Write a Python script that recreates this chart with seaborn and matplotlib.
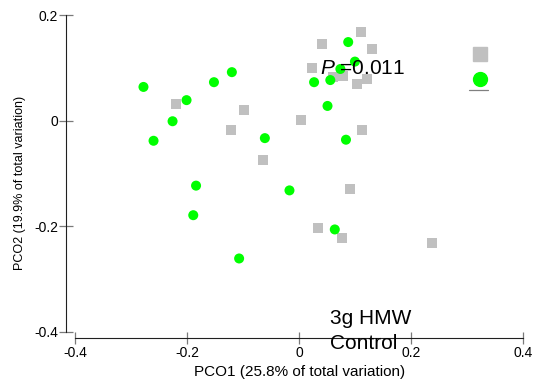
import matplotlib
matplotlib.use("Agg")
import matplotlib.pyplot as plt
from matplotlib.lines import Line2D
import seaborn as sns
import pandas as pd

# PCO scores per sample
hmw_pco1 = [0.110, 0.041, 0.130, 0.024, 0.061, 0.079, 0.121, 0.103, 0.003,
            0.113, 0.091, 0.034, 0.077, 0.238, -0.220, -0.098, -0.122, -0.064]
hmw_pco2 = [0.168, 0.146, 0.136, 0.100, 0.083, 0.085, 0.079, 0.070, 0.002,
            -0.017, -0.129, -0.203, -0.222, -0.231, 0.032, 0.020, -0.017, -0.074]
control_pco1 = [-0.278, -0.201, -0.152, -0.120, -0.226, -0.260, -0.061, -0.184,
                -0.017, -0.189, -0.107, 0.088, 0.100, 0.074, 0.027, 0.056,
                0.051, 0.084, 0.064]
control_pco2 = [0.064, 0.039, 0.073, 0.092, -0.001, -0.038, -0.033, -0.123,
                -0.132, -0.179, -0.261, 0.149, 0.112, 0.098, 0.073, 0.077,
                0.028, -0.036, -0.206]

groups = ["3g HMW", "Control"]
group_colors = {"3g HMW": "#C0C0C0", "Control": "#00FF00"}
group_markers = {"3g HMW": "s", "Control": "o"}
x_ticks = [-0.4, -0.2, 0.0, 0.2, 0.4]
x_tick_labels = ["-0.4", "-0.2", "0", "0.2", "0.4"]
y_ticks = [-0.4, -0.2, 0.0, 0.2]
y_tick_labels = ["-0.4", "-0.2", "0", "0.2"]
p_value = 0.011

sns.set_style("white")
plt.rcParams["font.family"] = ["Liberation Sans", "DejaVu Sans"]
plt.rcParams["text.color"] = "black"
plt.rcParams["axes.labelcolor"] = "black"
plt.rcParams["mathtext.fontset"] = "custom"
plt.rcParams["mathtext.rm"] = "Liberation Sans"
plt.rcParams["mathtext.it"] = "Liberation Sans:italic"

df = pd.concat([
    pd.DataFrame({"PCO1": hmw_pco1, "PCO2": hmw_pco2, "Group": groups[0]}),
    pd.DataFrame({"PCO1": control_pco1, "PCO2": control_pco2, "Group": groups[1]}),
], ignore_index=True)

W, H = 537, 385
fig = plt.figure(figsize=(W / 100, H / 100), dpi=100)
ax = fig.add_axes([66 / W, (H - 337.7) / H, (W - 66) / W, 337.7 / H])

sns.scatterplot(data=df, x="PCO1", y="PCO2", hue="Group", style="Group",
                palette=group_colors, markers=group_markers, s=52,
                linewidth=0, legend=False, ax=ax)

ax.set_xlim(-0.4165, 0.4255)
ax.set_ylim(-0.4111, 0.2287)
ax.set_xticks(x_ticks)
ax.set_xticklabels(x_tick_labels)
ax.set_yticks(y_ticks)
ax.set_yticklabels(y_tick_labels)

for side in ("top", "right"):
    ax.spines[side].set_visible(False)
for side in ("left", "bottom"):
    ax.spines[side].set_color("#202020")
    ax.spines[side].set_linewidth(0.8)
ax.spines["left"].set_bounds(-0.4, 0.2)
ax.spines["bottom"].set_bounds(-0.4, 0.4)

ax.tick_params(axis="x", direction="inout", length=8, width=0.9,
               color="#7a7a7a", labelcolor="black", labelsize=10, pad=2,
               bottom=True)
ax.tick_params(axis="y", direction="inout", length=9.5, width=0.9,
               color="#7a7a7a", labelcolor="black", labelsize=10, pad=1,
               left=True)

ax.set_xlabel("PCO1 (25.8% of total variation)", fontsize=11)
ax.xaxis.set_label_coords((299.5 - 66) / (W - 66), -0.08)
ax.set_ylabel("PCO2 (19.9% of total variation)", fontsize=9)
ax.yaxis.set_label_coords(-0.085, 0.457)

# permutation test result
ax.text(320 / W, 1 - 74.3 / H, f"$P$ ={p_value:.3f}", transform=fig.transFigure,
        fontsize=15, va="baseline", ha="left", color="black")

# legend glyphs and labels
fig.add_artist(Line2D([480 / W], [1 - 54.3 / H], marker="s", markersize=10,
                      color=group_colors[groups[0]], linestyle="none",
                      transform=fig.transFigure))
fig.add_artist(Line2D([480 / W], [1 - 78.7 / H], marker="o", markersize=10,
                      color=group_colors[groups[1]], linestyle="none",
                      transform=fig.transFigure))
fig.add_artist(Line2D([469 / W, 488 / W], [1 - 90.3 / H, 1 - 90.3 / H],
                      color="#808080", linewidth=0.9, transform=fig.transFigure))
fig.text(330 / W, 1 - 324.3 / H, groups[0], fontsize=15, va="baseline",
         ha="left", color="black")
fig.text(330 / W, 1 - 349 / H, groups[1], fontsize=15, va="baseline",
         ha="left", color="black")

fig.savefig("out.png", dpi=100)
